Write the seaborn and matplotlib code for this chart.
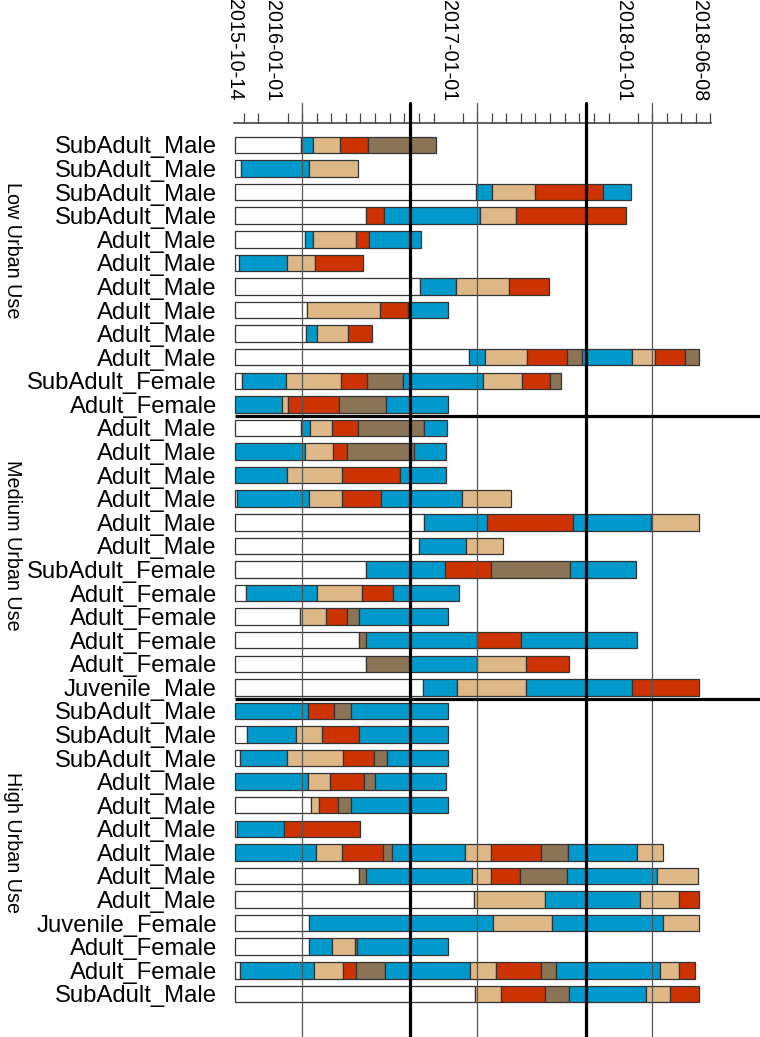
import matplotlib
matplotlib.use("Agg")
import matplotlib.pyplot as plt
import seaborn as sns
import pandas as pd

# ---------------- data ----------------
start_date = "2015-10-14"
label_dates = ["2015-10-14", "2016-01-01", "2017-01-01", "2018-01-01", "2018-06-08"]
thin_line_dates = ["2016-03-01", "2017-03-01", "2018-03-01"]
thick_line_dates = ["2016-10-14", "2017-10-14"]

group_names = ["Low Urban Use", "Medium Urban Use", "High Urban Use"]
group_sizes = [12, 12, 13]

animal_labels = [
    "SubAdult_Male", "SubAdult_Male", "SubAdult_Male", "SubAdult_Male",
    "Adult_Male", "Adult_Male", "Adult_Male", "Adult_Male", "Adult_Male", "Adult_Male",
    "SubAdult_Female", "Adult_Female",
    "Adult_Male", "Adult_Male", "Adult_Male", "Adult_Male", "Adult_Male", "Adult_Male",
    "SubAdult_Female", "Adult_Female", "Adult_Female", "Adult_Female", "Adult_Female",
    "Juvenile_Male",
    "SubAdult_Male", "SubAdult_Male", "SubAdult_Male",
    "Adult_Male", "Adult_Male", "Adult_Male", "Adult_Male", "Adult_Male", "Adult_Male",
    "Juvenile_Female", "Adult_Female", "Adult_Female", "SubAdult_Male",
]

# segment boundaries, in days since start_date
segment_breaks = [
    [0, 138, 162, 218, 277, 419],
    [0, 12, 154, 256],
    [0, 502, 537, 625, 767, 825],
    [0, 274, 311, 510, 587, 815],
    [0, 145, 162, 253, 279, 387],
    [0, 9, 108, 167, 267],
    [0, 386, 460, 572, 655],
    [0, 150, 302, 360, 445],
    [0, 149, 171, 235, 286],
    [0, 489, 522, 609, 693, 724, 828, 876, 939, 967],
    [0, 15, 107, 222, 276, 350, 517, 599, 657, 680],
    [0, 99, 111, 216, 315, 445],
    [0, 138, 156, 202, 257, 395, 443],
    [0, 147, 204, 233, 374, 441],
    [0, 108, 224, 345, 441],
    [0, 4, 154, 223, 305, 473, 576],
    [0, 395, 525, 705, 867, 967],
    [0, 383, 482, 559],
    [0, 273, 438, 534, 699, 837],
    [0, 23, 171, 265, 330, 467],
    [0, 135, 190, 233, 258, 445],
    [0, 259, 273, 505, 597, 839],
    [0, 273, 366, 504, 606, 696],
    [0, 393, 464, 606, 828, 967],
    [0, 153, 207, 242, 445],
    [0, 24, 127, 181, 259, 445],
    [0, 11, 108, 225, 290, 318, 445],
    [0, 152, 199, 268, 292, 441],
    [0, 158, 176, 214, 241, 445],
    [0, 5, 102, 261],
    [0, 168, 224, 308, 327, 480, 533, 638, 695, 838, 893],
    [0, 258, 273, 495, 534, 595, 693, 880, 965],
    [0, 499, 646, 845, 926, 968],
    [0, 155, 538, 661, 893, 968],
    [0, 155, 203, 251, 254, 445],
    [0, 10, 164, 226, 253, 313, 490, 545, 638, 669, 886, 925, 959],
    [0, 501, 554, 646, 697, 857, 907, 968],
]

# W = untracked, B = blue, T = tan, R = red, G = brown
segment_states = [
    "WBTRG", "WBT", "WBTRB", "WRBTR", "WBTRB", "WBTR", "WBTR", "WTRB", "WBTR",
    "WBTRGBTRG", "WBTRGBTRG", "BTRGB",
    "WBTRGB", "BTRGB", "BTRB", "WBTRBT", "WBRBT", "WBT", "WBRGB", "WBTRB",
    "WTRGB", "WGBRB", "WGBTR", "WBTBR",
    "BRGB", "WBTRB", "WBTRGB", "BTRGB", "WTRGB", "WBR", "BTRGBTRGBT",
    "WGBTRGBT", "WTBTR", "WBTBT", "WBTGB", "WBTRGBTRGBTR", "WTRGBTR",
]

state_colors = {"W": "#FFFFFF", "B": "#0099CC", "T": "#DEB887",
                "R": "#CC3300", "G": "#8B7355"}

# ---------------- figure ----------------
sns.set_theme(style="white")
plt.rcParams["font.family"] = ["Liberation Sans", "DejaVu Sans"]
plt.rcParams["text.color"] = "black"
plt.rcParams["xtick.labelcolor"] = "black"
plt.rcParams["ytick.labelcolor"] = "black"

W, H = 760, 1037
fig = plt.figure(figsize=(W / 100, H / 100), dpi=100)

px_per_day = 0.4795
x0_px, x1_px = 233.6, 710.7
top_px, bot_px = 123, 1037
row0_px, row_step = 145, 23.58

ax = fig.add_axes([x0_px / W, 0, (x1_px - x0_px) / W, 1 - top_px / H])
xmin = -(235 - x0_px) / px_per_day
xmax = xmin + (x1_px - x0_px) / px_per_day
ax.set_xlim(xmin, xmax)
ymin_row = (top_px - row0_px) / row_step
ymax_row = (bot_px - row0_px) / row_step
ax.set_ylim(ymax_row, ymin_row)

start = pd.Timestamp(start_date)
def to_day(d):
    return (pd.Timestamp(d) - start).days

# bars
for i, (brks, sts) in enumerate(zip(segment_breaks, segment_states)):
    for j, s in enumerate(sts):
        w = brks[j + 1] - brks[j]
        if w <= 0:
            continue
        ax.barh(i, w, left=brks[j], height=0.7, color=state_colors[s],
                edgecolor="#333333", linewidth=0.9, zorder=2)

# vertical reference lines
top_ext = ymin_row - 20 / row_step
for d in thin_line_dates:
    ax.plot([to_day(d)] * 2, [top_ext, ymax_row], color="#555555", lw=0.9,
            zorder=3, clip_on=False)
for d in thick_line_dates:
    ax.plot([to_day(d)] * 2, [top_ext, ymax_row], color="black", lw=2.3,
            zorder=4, clip_on=False)

# group separators
right_edge_day = (W - 235) / px_per_day
cum = 0
for n in group_sizes[:-1]:
    cum += n
    ax.plot([0, right_edge_day], [cum - 0.5] * 2, color="black", lw=2.3,
            zorder=5, clip_on=False, solid_capstyle="butt")

# y labels
ax.set_yticks(range(len(animal_labels)))
ax.set_yticklabels(animal_labels, fontsize=17.2, color="black")
ax.tick_params(axis="y", length=0, pad=12)

# x axis on top
ax.xaxis.tick_top()
ax.set_xticks([to_day(d) for d in label_dates])
ax.set_xticklabels(label_dates, rotation=-90, fontsize=14.2, color="black")
ax.tick_params(axis="x", which="major", length=0, pad=16, top=True, bottom=False)
months = pd.date_range("2015-11-01", "2018-07-01", freq="MS")
ax.set_xticks([(m - start).days for m in months], minor=True)
ax.tick_params(axis="x", which="minor", length=7, width=0.9, color="#444444",
               direction="out", top=True, bottom=False)

for side in ["left", "right", "bottom"]:
    ax.spines[side].set_visible(False)
ax.spines["top"].set_color("#444444")
ax.spines["top"].set_linewidth(1.2)
ax.grid(False)

# group labels
group_label_px = [250, 545, 843]
for name, ypx in zip(group_names, group_label_px):
    fig.text(12 / W, 1 - ypx / H, name, rotation=-90, ha="center", va="center",
             fontsize=14.2, color="black")

fig.savefig("out.png", dpi=100)
